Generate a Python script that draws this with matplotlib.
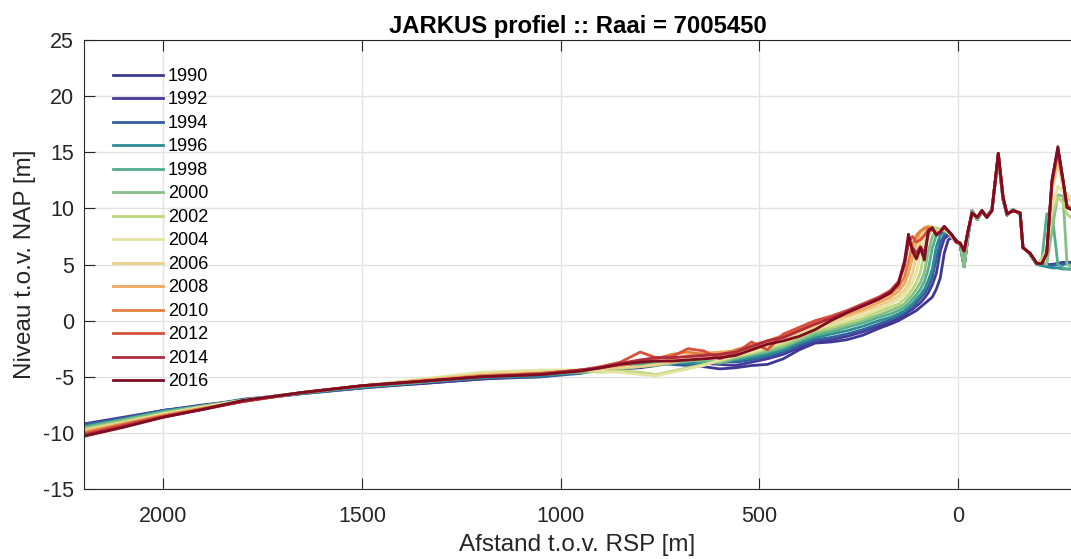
import matplotlib
matplotlib.use('Agg')
from matplotlib import pyplot as plt

plt.rcParams['font.family'] = ['Liberation Sans', 'DejaVu Sans']
plt.rcParams['axes.unicode_minus'] = False

years = [1990, 1992, 1994, 1996, 1998, 2000, 2002, 2004, 2006, 2008, 2010, 2012, 2014, 2016]
colors = ['#3d3990', '#47389a', '#33609f', '#2e8c96', '#52ae8c', '#86c087', '#bcd67e',
          '#e3e3a2', '#ead08a', '#eea85e', '#e2803e', '#d6503c', '#b02a40', '#7e0c22']

# distance to RSP [m] - offshore, nearshore and dune sections
x_off = [2200, 2100, 2000, 1900, 1800, 1650, 1500, 1350, 1200, 1050, 950]
x_near = [900, 850, 800, 760, 720, 680, 640, 600, 560, 520, 480, 440, 400, 360, 320, 280,
          240, 200, 170, 150, 135, 125, 115, 105, 95, 85, 75, 65, 55, 45, 35, 25, 15, 5]
x_dune = [-5, -15, -25, -35, -48, -60, -72, -85, -101, -113, -123, -138, -156, -163, -181, -198]
x_tail = [-211, -223, -236, -251, -264, -274, -290]

# levels [m NAP], one row per year
z_off = [
    [-9.3, -8.7, -8.0, -7.6, -7.1, -6.5, -6.0, -5.6, -5.2, -5.0, -4.6],
    [-9.2, -8.6, -8.0, -7.5, -7.1, -6.4, -5.9, -5.6, -5.2, -4.9, -4.6],
    [-9.3, -8.7, -8.0, -7.6, -7.0, -6.5, -6.0, -5.5, -5.1, -5.0, -4.7],
    [-9.4, -8.8, -8.1, -7.6, -7.1, -6.5, -5.9, -5.5, -5.1, -4.9, -4.6],
    [-9.5, -8.8, -8.1, -7.6, -7.1, -6.4, -5.9, -5.5, -5.0, -4.8, -4.6],
    [-9.6, -8.9, -8.2, -7.6, -7.1, -6.4, -5.8, -5.4, -4.9, -4.7, -4.6],
    [-9.7, -9.0, -8.3, -7.7, -7.1, -6.4, -5.8, -5.3, -4.7, -4.5, -4.4],
    [-9.8, -9.1, -8.3, -7.7, -7.1, -6.4, -5.8, -5.2, -4.6, -4.4, -4.4],
    [-9.8, -9.1, -8.4, -7.8, -7.2, -6.4, -5.8, -5.3, -4.8, -4.6, -4.5],
    [-9.9, -9.2, -8.4, -7.8, -7.2, -6.4, -5.8, -5.3, -4.9, -4.7, -4.4],
    [-10.0, -9.2, -8.5, -7.8, -7.2, -6.4, -5.8, -5.4, -4.9, -4.7, -4.4],
    [-10.1, -9.3, -8.5, -7.9, -7.2, -6.4, -5.8, -5.4, -5.0, -4.7, -4.4],
    [-10.2, -9.4, -8.6, -7.9, -7.2, -6.4, -5.8, -5.4, -5.0, -4.8, -4.4],
    [-10.3, -9.5, -8.6, -7.9, -7.1, -6.4, -5.8, -5.4, -5.0, -4.8, -4.5],
]
z_near = [
    [-4.4, -4.3, -4.2, -4.0, -3.7, -3.9, -4.1, -4.3, -4.2, -4.0, -3.9, -3.4, -2.6, -2.0, -1.9, -1.7,
     -1.3, -0.7, -0.3, 0.0, 0.3, 0.5, 0.7, 0.9, 1.2, 1.5, 1.8, 2.1, 2.8, 3.8, 6.0, 7.2, 7.4, 7.0],
    [-4.3, -4.2, -4.0, -3.9, -3.8, -3.7, -3.8, -3.9, -4.0, -3.7, -3.4, -3.0, -2.4, -1.9, -1.7, -1.4,
     -1.0, -0.5, -0.1, 0.2, 0.5, 0.8, 1.0, 1.3, 1.6, 2.0, 2.5, 3.2, 4.2, 6.2, 7.3, 7.6, 7.5, 7.1],
    [-4.3, -4.1, -4.0, -3.8, -3.9, -4.0, -3.8, -3.6, -3.7, -3.5, -3.2, -2.8, -2.2, -1.7, -1.5, -1.2,
     -0.8, -0.3, 0.1, 0.4, 0.7, 1.0, 1.3, 1.6, 2.0, 2.4, 3.0, 3.9, 5.5, 7.0, 7.6, 7.8, 7.5, 7.2],
    [-4.4, -4.2, -3.9, -3.8, -3.6, -3.8, -3.7, -3.6, -3.5, -3.3, -3.0, -2.6, -2.0, -1.5, -1.2, -0.9,
     -0.5, 0.0, 0.3, 0.6, 0.9, 1.2, 1.5, 1.9, 2.3, 2.8, 3.6, 4.6, 6.6, 7.6, 7.9, 7.8, 7.6, 7.1],
    [-4.5, -4.2, -4.0, -3.7, -3.6, -3.5, -3.7, -3.8, -3.4, -3.1, -2.8, -2.4, -1.8, -1.3, -1.0, -0.6,
     -0.2, 0.3, 0.6, 0.9, 1.2, 1.5, 1.9, 2.3, 2.8, 3.5, 4.6, 6.5, 7.6, 8.0, 8.1, 7.9, 7.5, 7.0],
    [-4.5, -4.3, -4.1, -4.0, -3.8, -3.6, -3.5, -3.7, -3.3, -3.0, -2.7, -2.3, -1.7, -1.1, -0.8, -0.4,
     0.0, 0.5, 0.9, 1.2, 1.5, 1.9, 2.3, 2.8, 3.4, 4.3, 6.2, 7.5, 8.1, 8.2, 8.0, 7.8, 7.4, 7.0],
    [-4.6, -4.5, -4.6, -4.8, -4.5, -4.2, -3.9, -3.6, -3.2, -2.9, -2.5, -2.1, -1.5, -0.9, -0.6, -0.2,
     0.2, 0.8, 1.2, 1.5, 1.9, 2.3, 2.8, 3.4, 4.3, 6.1, 7.5, 8.2, 8.3, 8.0, 8.1, 7.9, 7.5, 7.1],
    [-4.5, -4.6, -4.8, -4.9, -4.6, -4.3, -4.0, -3.5, -3.1, -2.8, -2.4, -1.9, -1.3, -0.7, -0.4, 0.0,
     0.5, 1.0, 1.5, 1.9, 2.3, 2.8, 3.4, 4.3, 6.0, 7.4, 8.3, 8.4, 7.9, 8.0, 8.2, 7.9, 7.4, 7.0],
    [-4.3, -4.2, -4.1, -3.9, -3.7, -3.4, -3.2, -3.0, -2.9, -2.6, -2.2, -1.7, -1.1, -0.5, -0.2, 0.3,
     0.8, 1.3, 1.8, 2.2, 2.7, 3.3, 4.2, 5.8, 7.2, 8.0, 8.4, 8.3, 7.8, 8.0, 8.2, 7.9, 7.5, 7.0],
    [-4.2, -4.0, -3.7, -3.3, -3.4, -3.1, -2.9, -2.8, -2.7, -2.4, -2.0, -1.5, -0.9, -0.3, 0.1, 0.5,
     1.0, 1.6, 2.1, 2.6, 3.3, 4.2, 5.6, 7.0, 7.9, 8.3, 8.4, 8.2, 7.8, 7.9, 8.3, 8.0, 7.5, 7.0],
    [-4.2, -3.9, -3.6, -3.4, -3.0, -2.8, -3.0, -3.1, -2.6, -2.2, -1.8, -1.3, -0.7, -0.1, 0.3, 0.8,
     1.3, 1.9, 2.4, 3.0, 3.9, 5.2, 6.8, 7.6, 8.0, 8.2, 8.3, 8.1, 7.7, 7.9, 8.3, 8.0, 7.6, 7.0],
    [-4.1, -3.7, -2.8, -3.3, -3.2, -2.5, -2.7, -3.4, -2.9, -1.9, -2.6, -1.2, -0.6, 0.0, 0.4, 0.9,
     1.5, 2.1, 2.7, 3.5, 5.2, 7.0, 7.5, 7.0, 7.2, 7.6, 8.1, 8.2, 7.7, 7.9, 8.3, 8.0, 7.6, 7.0],
    [-4.2, -3.8, -3.5, -3.3, -3.3, -3.2, -3.1, -3.0, -2.8, -2.3, -1.8, -1.5, -0.9, -0.3, 0.2, 0.8,
     1.4, 2.0, 2.6, 3.4, 4.9, 7.0, 6.5, 6.0, 6.6, 6.0, 7.9, 8.2, 7.7, 7.9, 8.4, 8.0, 7.6, 7.0],
    [-4.2, -3.9, -3.7, -3.6, -3.6, -3.5, -3.4, -3.3, -3.1, -2.6, -2.1, -1.8, -1.4, -0.8, 0.0, 0.7,
     1.3, 1.9, 2.5, 3.3, 5.3, 7.7, 6.2, 5.5, 6.5, 5.4, 8.0, 8.3, 7.6, 7.9, 8.4, 8.0, 7.6, 7.1],
]
# first dune row: older surveys (up to 2000), second: later surveys
z_dune_old = [6.8, 4.8, 7.6, 9.8, 9.0, 9.7, 9.3, 9.9, 14.6, 10.8, 9.4, 9.9, 9.5, 6.6, 5.9, 5.0]
z_dune_new = [6.9, 6.2, 8.0, 9.6, 9.2, 9.8, 9.2, 9.8, 14.9, 11.0, 9.5, 9.8, 9.6, 6.5, 6.0, 5.1]
z_tail = [
    [5.0, 4.9, 5.0, 5.1, 5.2, 5.1, 5.2],
    [5.1, 5.0, 5.0, 5.0, 5.1, 5.2, 5.2],
    [5.0, 4.9, 4.9, 5.0, 5.0, 5.1, 5.1],
    [4.9, 4.8, 4.7, 4.7, 4.6, 4.6, 4.6],
    [5.5, 9.5, 9.6, 5.0, 4.7, 4.6, 4.6],
    [5.2, 5.0, 8.0, 11.2, 11.1, 5.0, 4.8],
    [5.5, 6.5, 9.5, 11.0, 10.5, 9.5, 9.0],
    [5.3, 6.0, 10.0, 12.0, 11.5, 11.2, 11.0],
    [5.2, 6.0, 11.5, 14.0, 12.0, 11.0, 10.5],
    [5.1, 6.0, 12.0, 14.8, 12.3, 10.3, 10.0],
    [5.1, 6.0, 12.2, 15.0, 12.4, 10.2, 9.9],
    [5.1, 6.0, 12.3, 15.2, 12.5, 10.1, 9.8],
    [5.1, 6.0, 12.4, 15.3, 12.5, 10.1, 9.8],
    [5.1, 6.0, 12.5, 15.5, 12.5, 10.1, 9.8],
]

fig = plt.figure(figsize=(10.71, 5.59), dpi=100)
ax = fig.add_axes([0.0784, 0.1252, 0.9216, 0.8032])

x_all = x_off + x_near + x_dune + x_tail
for i, yr in enumerate(years):
    dune = z_dune_old if yr <= 2000 else z_dune_new
    z = z_off[i] + z_near[i] + dune + z_tail[i]
    ax.plot(x_all, z, color=colors[i], lw=2, label=str(yr))

ax.set_xlim(2200, -284)
ax.set_ylim(-15, 25)
ax.set_xticks([2000, 1500, 1000, 500, 0])
ax.set_yticks(range(-15, 26, 5))
ax.grid(True, color='#e3e3e3', lw=1)
ax.set_axisbelow(True)
ax.spines['right'].set_visible(False)
for s in ['left', 'bottom', 'top']:
    ax.spines[s].set_color('#262626')
    ax.spines[s].set_linewidth(0.8)
ax.tick_params(labelsize=15.5, colors='#262626', direction='in', length=8, top=True)
ax.tick_params(axis='x', pad=12)
ax.tick_params(axis='y', pad=7)
ax.set_xlabel('Afstand t.o.v. RSP [m]', fontsize=17.5, color='#262626', labelpad=5)
ax.set_ylabel('Niveau t.o.v. NAP [m]', fontsize=17.5, color='#262626', labelpad=5)
ax.set_title('JARKUS profiel :: Raai = 7005450', fontsize=17.2, fontweight='bold', pad=5)

leg = ax.legend(loc='upper left', bbox_to_anchor=(0.013, 0.974), frameon=False,
                fontsize=13, handlelength=2.75, handletextpad=0.3, labelspacing=0.36)
for ln in leg.get_lines():
    ln.set_linewidth(2)

fig.savefig('out.png', dpi=100)
